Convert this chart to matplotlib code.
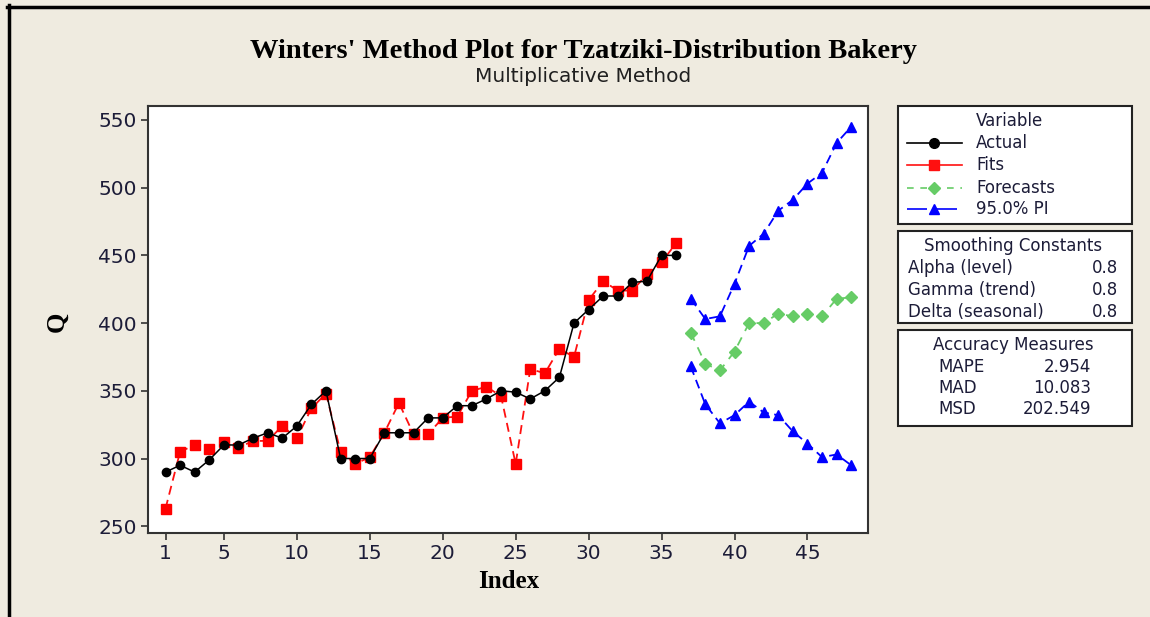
import matplotlib.pyplot as plt
import matplotlib.patches as patches
from matplotlib.lines import Line2D
import numpy as np

# observed data (periods 1-36)
actual = [290, 295, 290, 299, 310, 310, 315, 319, 315, 324,
          340, 350, 300, 300, 300, 319, 319, 319, 330, 330,
          339, 339, 344, 350, 349, 344, 350, 360, 400, 410,
          420, 420, 430, 431, 450, 450]
fits = [263, 305, 310, 307, 312, 308, 313, 313, 324, 315,
        337, 348, 305, 296, 301, 319, 341, 318, 318, 330,
        331, 350, 353, 346, 296, 366, 363, 381, 375, 417,
        431, 424, 424, 436, 445, 459]

# forecasts (periods 37-48)
forecasts = [393, 370, 365, 379, 400, 400, 407, 405, 407, 405, 418, 419]
upper_pi = [418, 403, 405, 429, 457, 466, 483, 491, 503, 511, 533, 545]
lower_pi = [368, 340, 326, 332, 342, 334, 332, 320, 311, 301, 303, 295]

xticks = [1, 5, 10, 15, 20, 25, 30, 35, 40, 45]
yticks = [250, 300, 350, 400, 450, 500, 550]

smoothing = [('Alpha (level)', '0.8'), ('Gamma (trend)', '0.8'), ('Delta (seasonal)', '0.8')]
accuracy = [('MAPE', '2.954'), ('MAD', '10.083'), ('MSD', '202.549')]

W, H = 1150, 617
bg = '#efebe0'
txtc = '#1c1c38'

fig = plt.figure(figsize=(W / 100, H / 100), dpi=100, facecolor=bg)

def fx(px):
    return px / W

def fy(py):
    return 1 - py / H

ax = fig.add_axes([fx(148), fy(533), fx(868) - fx(148), fy(106) - fy(533)])
ax.set_facecolor('white')

idx_obs = np.arange(1, len(actual) + 1)
idx_fc = np.arange(len(actual) + 1, len(actual) + len(forecasts) + 1)

ax.plot(idx_obs, actual, color='black', lw=1.1, marker='o', ms=6, zorder=4)
ax.plot(idx_obs, fits, color='#ff1010', lw=1.3, ls=(0, (5, 3)), marker='s', ms=7,
        mec='#ff0000', mfc='#ff0000', zorder=3)
ax.plot(idx_fc, forecasts, color='#66cc66', lw=1.3, ls=(0, (5, 4)), marker='D', ms=6, zorder=3)
ax.plot(idx_fc, upper_pi, color='#0000ff', lw=1.3, ls=(0, (5, 3)), marker='^', ms=7, zorder=3)
ax.plot(idx_fc, lower_pi, color='#0000ff', lw=1.3, ls=(0, (5, 3)), marker='^', ms=7, zorder=3)

ax.set_xlim(-0.2, 49.15)
ax.set_ylim(245, 560.3)
ax.set_xticks(xticks)
ax.set_yticks(yticks)
ax.tick_params(direction='out', length=5, width=1.2, color='#333333',
               labelsize=14.5, labelcolor=txtc, pad=3)
for s in ax.spines.values():
    s.set_color('#333333')
    s.set_linewidth(1.5)

fig.text(fx(583), fy(51), "Winters' Method Plot for Tzatziki-Distribution Bakery",
         ha='center', va='center', family='Liberation Serif', weight='bold', fontsize=20.5)
fig.text(fx(583), fy(77), 'Multiplicative Method', ha='center', va='center',
         family='DejaVu Sans', fontsize=14.5, color='#202020')
fig.text(fx(509), fy(581), 'Index', ha='center', va='center',
         family='Liberation Serif', weight='bold', fontsize=18)
fig.text(fx(57), fy(322), 'Q', ha='center', va='center', rotation=90,
         family='Liberation Serif', weight='bold', fontsize=19)

# outer frame lines (top and left)
fig.add_artist(Line2D([fx(7), fx(1150)], [fy(6.5), fy(6.5)], color='black', lw=2.5))
fig.add_artist(Line2D([fx(8.5), fx(8.5)], [fy(5), fy(617)], color='black', lw=2.5))

# side boxes
boxes = [(106, 224), (231, 323), (330, 426)]
for top, bot in boxes:
    fig.add_artist(patches.Rectangle((fx(898), fy(bot)), fx(1132) - fx(898), fy(top) - fy(bot),
                                     facecolor='white', edgecolor='#222222', lw=1.5,
                                     transform=fig.transFigure))

lfs = 12
fig.text(fx(1010), fy(121), 'Variable', ha='center', va='center', fontsize=lfs, color=txtc)
leg = [('Actual', 'black', '-', 'o', 143),
       ('Fits', '#ff1010', '-', 's', 165),
       ('Forecasts', '#66cc66', (0, (4, 4)), 'D', 188),
       ('95.0% PI', '#0000ff', (0, (12, 6)), '^', 209)]
for name, c, ls, mk, py in leg:
    fig.add_artist(Line2D([fx(907), fx(934), fx(962)], [fy(py)] * 3, color=c, lw=1.2, ls=ls,
                          marker=mk, markevery=[1], ms=7 if mk != 'D' else 6, mfc=c, mec=c))
    fig.text(fx(976), fy(py), name, ha='left', va='center', fontsize=lfs, color=txtc)

fig.text(fx(1013), fy(246), 'Smoothing Constants', ha='center', va='center', fontsize=lfs, color=txtc)
for i, (lab, val) in enumerate(smoothing):
    py = 268 + i * 22
    fig.text(fx(908), fy(py), lab, ha='left', va='center', fontsize=lfs, color=txtc)
    fig.text(fx(1118), fy(py), val, ha='right', va='center', fontsize=lfs, color=txtc)

fig.text(fx(1013), fy(345), 'Accuracy Measures', ha='center', va='center', fontsize=lfs, color=txtc)
for i, (lab, val) in enumerate(accuracy):
    py = 367 + i * 21
    fig.text(fx(938), fy(py), lab, ha='left', va='center', fontsize=lfs, color=txtc)
    fig.text(fx(1091), fy(py), val, ha='right', va='center', fontsize=lfs, color=txtc)

fig.savefig('out.png', dpi=100, facecolor=bg)
